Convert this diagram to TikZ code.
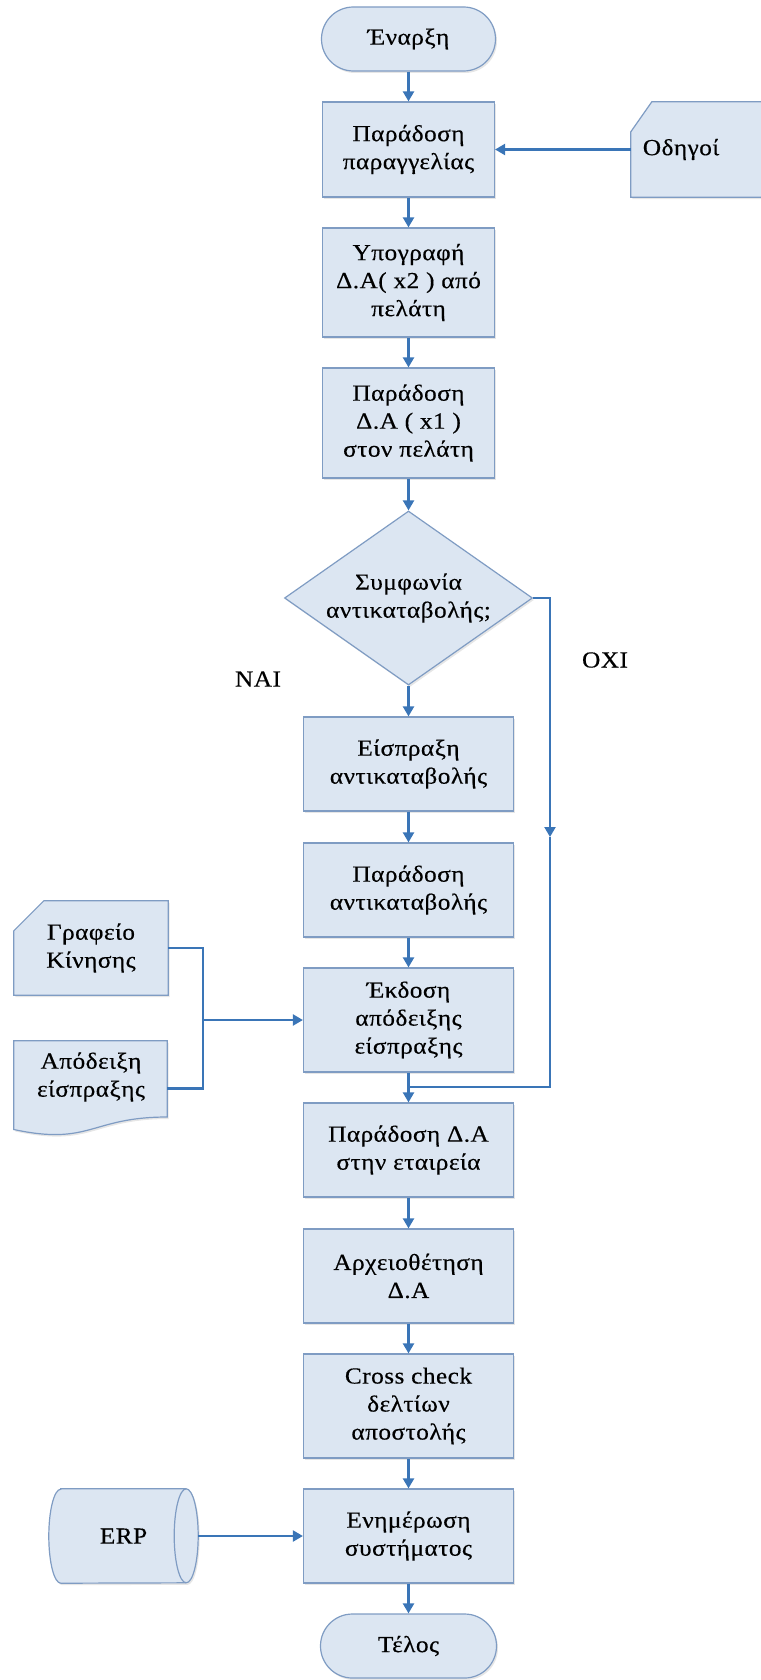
\documentclass[tikz,border=0pt]{standalone}
\usepackage{fontspec}
\setmainfont{Liberation Serif}[FakeStretch=1.1,LetterSpace=2,FakeBold=0.4]
\usetikzlibrary{arrows.meta,shapes.geometric,shadows,calc}

\definecolor{boxfill}{HTML}{DCE6F2}
\definecolor{boxedge}{HTML}{7F9CC3}
\definecolor{flow}{HTML}{3A75B7}

\begin{document}
\begin{tikzpicture}[x=1pt,y=-1pt,
  every node/.style={font=\fontsize{23}{28}\selectfont,align=center},
  softshadow/.style={drop shadow={opacity=0.2,shadow xshift=1.5pt,shadow yshift=-2pt}},
  shapestyle/.style={draw=boxedge,line width=1.2pt,fill=boxfill,softshadow},
  proc/.style={shapestyle,rectangle,inner sep=0pt,minimum width=172pt},
  procw/.style={proc,minimum width=210pt},
  term/.style={shapestyle,rectangle,rounded corners=31.9pt,minimum width=174pt,minimum height=64pt,inner sep=0pt},
  decide/.style={shapestyle,diamond,aspect=1.425,minimum width=248pt,minimum height=174pt,inner sep=0pt},
  ghost/.style={rectangle,inner sep=0pt},
  flowline/.style={draw=flow,line width=2.2pt},
  flowarrow/.style={flowline,-{Triangle[length=10pt,width=11pt]}}]

\useasboundingbox (0,0) rectangle (760,1680);

% main column
\node[term] (start) at (408.5,39) {Έναρξη};
\node[proc,minimum height=95pt] (b1) at (408.5,149.5) {Παράδοση\\παραγγελίας};
\node[proc,minimum height=109pt] (b2) at (408.5,282.5) {Υπογραφή\\Δ.Α( x2 ) από\\πελάτη};
\node[proc,minimum height=110pt] (b3) at (408.5,423) {Παράδοση\\Δ.Α ( x1 )\\στον πελάτη};
\node[decide] (dec) at (408.5,598) {Συμφωνία\\αντικαταβολής;};
\node[procw,minimum height=94pt] (b4) at (408.5,764) {Είσπραξη\\αντικαταβολής};
\node[procw,minimum height=94pt] (b5) at (408.5,890) {Παράδοση\\αντικαταβολής};
\node[procw,minimum height=104pt] (b6) at (408.5,1020) {Έκδοση\\απόδειξης\\είσπραξης};
\node[procw,minimum height=94pt] (b7) at (408.5,1150) {Παράδοση Δ.Α\\στην εταιρεία};
\node[procw,minimum height=94pt] (b8) at (408.5,1276) {Αρχειοθέτηση\\Δ.Α};
\node[procw,minimum height=104pt] (b9) at (408.5,1406) {Cross check\\δελτίων\\αποστολής};
\node[procw,minimum height=94pt] (b10) at (408.5,1536) {Ενημέρωση\\συστήματος};
\node[term,minimum width=176pt] (stop) at (408.5,1646) {Τέλος};

% branch labels
\node (yes) at (258,679) {ΝΑΙ};
\node (no) at (605,660) {ΟΧΙ};

% manual input: drivers (card shape, runs off the right edge)
\node[ghost,minimum width=144pt,minimum height=95pt] (drv) at (703,149.5) {};
\path[shapestyle] (drv.north west) ++(0,30) -- ++(21,-30) -- (drv.north east)
  -- (drv.south east) -- (drv.south west) -- cycle;
\node (drvtext) at (681,149.5) {Οδηγοί};

% card: dispatch office
\node[ghost,minimum width=154pt,minimum height=94pt] (gk) at (91,948) {};
\path[shapestyle] (gk.north west) ++(0,30) -- ++(30,-30) -- (gk.north east)
  -- (gk.south east) -- (gk.south west) -- cycle;
\node (gktext) at (gk) {Γραφείο\\Κίνησης};

% document: receipt
\node[ghost,minimum width=153pt,minimum height=95pt] (ap) at (90.5,1088.5) {};
\path[shapestyle] (ap.north west) -- (ap.north east) -- ($(ap.north east)+(0,76.2)$)
  .. controls ($(ap.north)+(0,76.2)$) and ($(ap.north)+(0,105.2)$) .. ($(ap.north west)+(0,88.7)$)
  -- cycle;
\node (aptext) at (91,1077) {Απόδειξη\\είσπραξης};

% stored data: ERP
\node[ghost,minimum width=149pt,minimum height=94pt] (erp) at (123.5,1536) {};
\path[shapestyle] ($(erp.north west)+(12,0)$) -- ($(erp.north east)+(-12,0)$)
  arc[start angle=-90,end angle=90,x radius=12,y radius=47]
  -- ($(erp.south west)+(12,0)$)
  arc[start angle=90,end angle=270,x radius=12,y radius=47] -- cycle;
\draw[draw=boxedge,line width=1.2pt] ($(erp.north east)+(-12,0)$)
  arc[start angle=-90,end angle=-270,x radius=12,y radius=47];
\node (erptext) at (erp) {ERP};

% main flow
\draw[flowarrow] (start.south) -- (b1.north);
\draw[flowarrow] (drv.west) -- (b1.east);
\draw[flowarrow] (b1.south) -- (b2.north);
\draw[flowarrow] (b2.south) -- (b3.north);
\draw[flowarrow] (b3.south) -- (dec.north);
\draw[flowarrow] (dec.south) -- (b4.north);
\draw[flowarrow] (b4.south) -- (b5.north);
\draw[flowarrow] (b5.south) -- (b6.north);
\draw[flowarrow] (b6.south) -- (b7.north);
\draw[flowarrow] (b7.south) -- (b8.north);
\draw[flowarrow] (b8.south) -- (b9.north);
\draw[flowarrow] (b9.south) -- (b10.north);
\draw[flowarrow] (b10.south) -- (stop.north);

% "no" branch bypassing the collection steps
\coordinate (oximid) at (550,837);
\coordinate (join) at (408.5,1087);
\draw[flowarrow] (dec.east) -| (oximid);
\draw[flowline] (oximid) |- (join);

% inputs to the receipt step
\coordinate (bus) at (203,1020);
\draw[flowline] (gk.east) -| (bus) |- (ap.east);
\draw[flowarrow] (bus) -- (b6.west);

% ERP into system update
\draw[flowarrow] (erp.east) -- (b10.west);
\end{tikzpicture}
\end{document}
